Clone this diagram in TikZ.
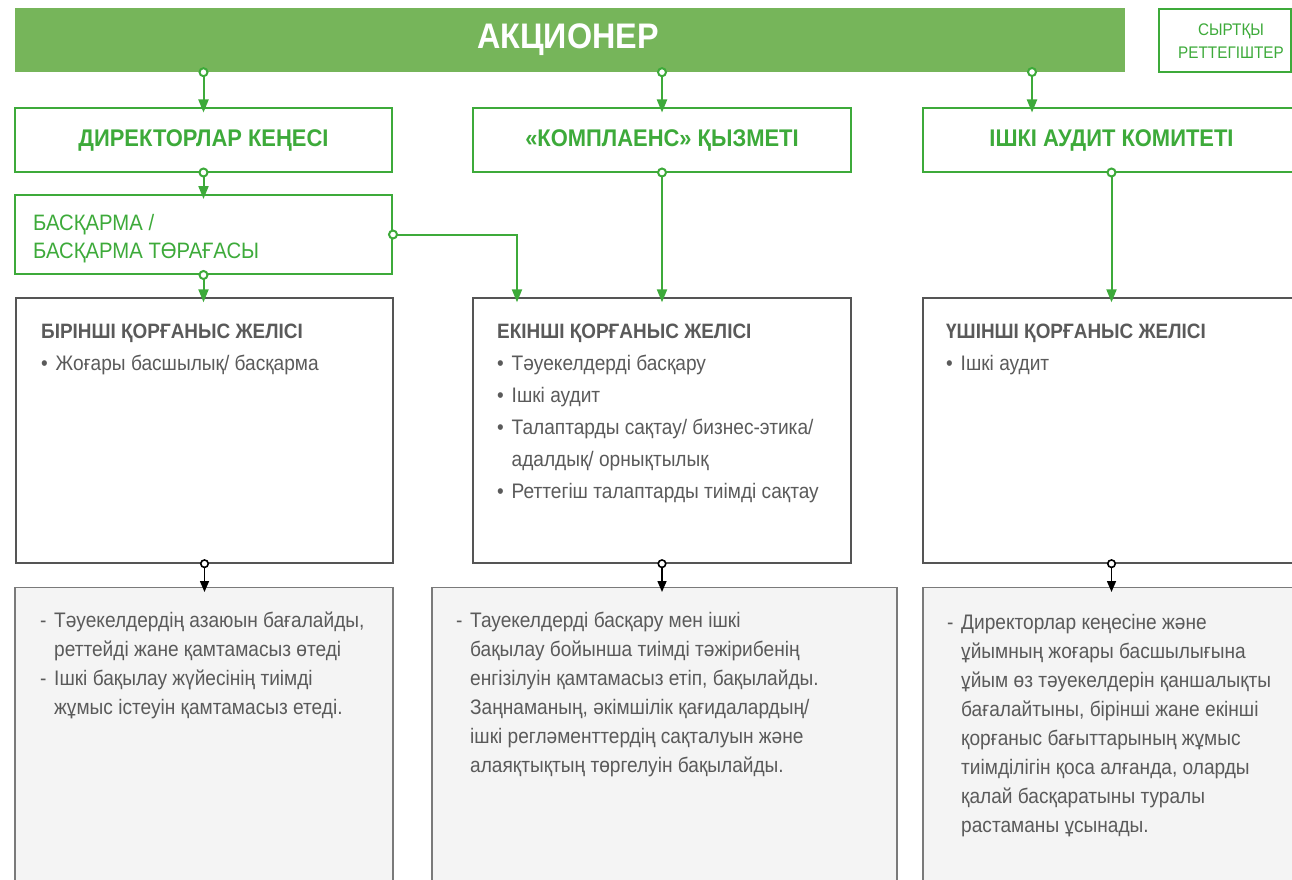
\documentclass[tikz,border=0pt]{standalone}
\usepackage{fontspec}
\setmainfont{Liberation Sans}[FakeStretch=0.91]
\usetikzlibrary{arrows.meta}
\definecolor{barg}{HTML}{76B55A}
\definecolor{lg}{HTML}{3DAA3A}
\definecolor{tg}{HTML}{5A5A5A}
\definecolor{bd}{HTML}{555555}
\definecolor{bd3}{HTML}{7A7A7A}
\definecolor{fillg}{HTML}{F4F4F4}
\tikzset{
  gbox/.style={draw=lg, line width=2pt, fill=white, inner sep=0pt, text=lg},
  wbox/.style={draw=bd, line width=1.4pt, fill=white, inner sep=0pt},
  fbox/.style={draw=bd3, line width=1.4pt, fill=fillg, inner sep=0pt},
  garrow/.style={draw=lg, line width=2pt, -{Triangle[length=13pt,width=10pt]}, shorten >=-5pt},
  karrow/.style={draw=black, line width=1.5pt, -{Triangle[length=11pt,width=9pt]}, shorten >=-5pt},
  gpin/.style={circle, draw=lg, line width=2pt, fill=white, inner sep=0pt, minimum size=8pt},
  kpin/.style={circle, draw=black, line width=1.6pt, fill=white, inner sep=0pt, minimum size=7.5pt},
  hdr/.style={font=\bfseries\fontsize{24.1}{28}\selectfont},
  body/.style={anchor=north west, inner sep=0pt, align=left, text=tg, font=\fontsize{21}{32}\selectfont},
  body3/.style={anchor=north west, inner sep=0pt, align=left, text=tg, font=\fontsize{21}{29}\selectfont},
}
\newcommand{\bul}{\makebox[14.5pt][l]{•}}
\newcommand{\dsh}{\makebox[14pt][l]{-}}
\newcommand{\ind}{\hspace*{14.5pt}}
\newcommand{\indd}{\hspace*{14pt}}
\newcommand{\ttl}[1]{{\bfseries\fontsize{20.8}{32}\selectfont #1}}
\begin{document}
\begin{tikzpicture}[x=1pt,y=-1pt]
\useasboundingbox (0,0) rectangle (1292,880);

% top bar
\node[fill=barg, inner sep=0pt, minimum width=1110pt, minimum height=64pt] (bar) at (570,40) {};
\node[text=white, font=\bfseries\fontsize{35.5}{40}\selectfont, inner sep=0pt] (bart) at (568,40) {АКЦИОНЕР};
% regulators
\node[gbox, minimum width=132pt, minimum height=63pt] (reg) at (1225,40.5) {};
\node[text=lg, align=center, inner sep=0pt, font=\fontsize{16.8}{23}\selectfont] (regt) at (1231,41) {СЫРТҚЫ\\РЕТТЕГІШТЕР};

% row 1
\node[gbox, hdr, minimum width=377pt, minimum height=63pt] (dk) at (203.5,140) {ДИРЕКТОРЛАР КЕҢЕСІ};
\node[gbox, hdr, minimum width=378pt, minimum height=63pt] (cp) at (662,140) {«КОМПЛАЕНС» ҚЫЗМЕТІ};
\node[gbox, hdr, minimum width=377pt, minimum height=63pt] (au) at (1111.5,140) {ІШКІ АУДИТ КОМИТЕТІ};

% management
\node[gbox, minimum width=377pt, minimum height=79pt] (bq) at (203.5,234.5) {};
\node[anchor=north west, inner sep=0pt, align=left, text=lg, font=\fontsize{22.3}{28.5}\selectfont] (bqt) at (33,209) {\rule{0pt}{21pt}БАСҚАРМА /\\БАСҚАРМА ТӨРАҒАСЫ};

% row 2
\node[wbox, minimum width=377pt, minimum height=265pt] (l1) at (204.5,430.5) {};
\node[wbox, minimum width=378pt, minimum height=265pt] (l2) at (662,430.5) {};
\node[wbox, minimum width=377pt, minimum height=265pt] (l3) at (1111.5,430.5) {};

\node[body] (l1t) at (41,318) {\rule{0pt}{20pt}\ttl{БІРІНШІ ҚОРҒАНЫС ЖЕЛІСІ}\\
\bul Жоғары басшылық/ басқарма};
\node[body] (l2t) at (497,318) {\rule{0pt}{20pt}\ttl{ЕКІНШІ ҚОРҒАНЫС ЖЕЛІСІ}\\
\bul Тәуекелдерді басқару\\
\bul Ішкі аудит\\
\bul Талаптарды сақтау/ бизнес-этика/\\
\ind адалдық/ орнықтылық\\
\bul Реттегіш талаптарды тиімді сақтау};
\node[body] (l3t) at (946,318) {\rule{0pt}{20pt}\ttl{ҮШІНШІ ҚОРҒАНЫС ЖЕЛІСІ}\\
\bul Ішкі аудит};

% row 3
\node[fbox, minimum width=378pt, minimum height=300pt, anchor=north] (r1) at (204,587) {};
\node[fbox, minimum width=465pt, minimum height=300pt, anchor=north] (r2) at (664.5,587) {};
\node[fbox, minimum width=377pt, minimum height=300pt, anchor=north] (r3) at (1111.5,587) {};

\node[body3] (r1t) at (40,607) {\rule{0pt}{20pt}\dsh Тәуекелдердің азаюын бағалайды,\\
\indd реттейді жане қамтамасыз өтеді\\
\dsh Ішкі бақылау жүйесінің тиімді\\
\indd жұмыс істеуін қамтамасыз етеді.};
\node[body3] (r2t) at (456,607) {\rule{0pt}{20pt}\dsh Тауекелдерді басқару мен ішкі\\
\indd бақылау бойынша тиімді тәжірибенің\\
\indd енгізілуін қамтамасыз етіп, бақылайды.\\
\indd Заңнаманың, әкімшілік қағидалардың/\\
\indd ішкі регләменттердің сақталуын және\\
\indd алаяқтықтың төргелуін бақылайды.};
\node[body3] (r3t) at (947,609) {\rule{0pt}{20pt}\dsh Директорлар кеңесіне және\\
\indd ұйымның жоғары басшылығына\\
\indd ұйым өз тәуекелдерін қаншалықты\\
\indd бағалайтыны, бірінші жане екінші\\
\indd қорғаныс бағыттарының жұмыс\\
\indd тиімділігін қоса алғанда, оларды\\
\indd қалай басқаратыны туралы\\
\indd растаманы ұсынады.};

% connectors
\coordinate (a3) at (1032,72);
\coordinate (bend) at (517,234.5);
\draw[garrow] (dk.north |- bar.south) -- (dk.north);
\draw[garrow] (cp.north |- bar.south) -- (cp.north);
\draw[garrow] (a3) -- (a3 |- au.north);
\draw[garrow] (dk.south) -- (bq.north);
\draw[garrow] (bq.east) -- (bend) -- (bend |- l2.north);
\draw[garrow] (bq.south) -- (bq.south |- l1.north);
\draw[garrow] (cp.south) -- (cp.south |- l2.north);
\draw[garrow] (au.south) -- (au.south |- l3.north);
\draw[karrow] (l1.south) -- (l1.south |- r1.north);
\draw[karrow] (l2.south) -- (l2.south |- r2.north);
\draw[karrow] (l3.south) -- (l3.south |- r3.north);

\node[gpin] (p1) at (dk.north |- bar.south) {};
\node[gpin] (p2) at (cp.north |- bar.south) {};
\node[gpin] (p3) at (a3) {};
\node[gpin] (p4) at (dk.south) {};
\node[gpin] (p5) at (bq.east) {};
\node[gpin] (p6) at (bq.south) {};
\node[gpin] (p7) at (cp.south) {};
\node[gpin] (p8) at (au.south) {};
\node[kpin] (k1) at (l1.south) {};
\node[kpin] (k2) at (l2.south) {};
\node[kpin] (k3) at (l3.south) {};
\end{tikzpicture}
\end{document}
